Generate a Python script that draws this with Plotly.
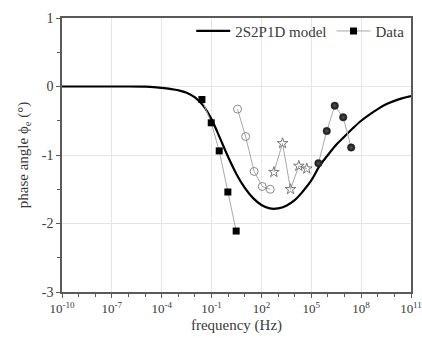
import plotly.graph_objects as go

# 2S2P1D model curve: log10(frequency) vs phase angle (deg)
model_logf = [-10, -8, -6, -5, -4.5, -4, -3.5, -3, -2.5, -2, -1.5, -1, -0.5, 0, 0.5, 1,
              1.5, 2, 2.5, 3, 3.5, 4, 4.5, 5, 5.5, 6, 6.5, 7, 7.5, 8, 8.5, 9, 9.5,
              10, 10.5, 11]
model_phase = [0, 0, 0, -0.003, -0.008, -0.02, -0.035, -0.055, -0.09, -0.16, -0.28, -0.48,
               -0.75, -1.03, -1.28, -1.48, -1.63, -1.73, -1.78, -1.78, -1.74, -1.66,
               -1.53, -1.37, -1.16, -1.0, -0.85, -0.73, -0.61, -0.5, -0.41, -0.33,
               -0.26, -0.21, -0.17, -0.14]

# Measured data, grouped by test series (log10 frequency, phase angle)
sq_logf = [-1.58, -1.02, -0.54, -0.02, 0.48]
sq_phase = [-0.19, -0.53, -0.94, -1.54, -2.11]

circ_logf = [0.56, 1.05, 1.56, 2.05, 2.53]
circ_phase = [-0.33, -0.73, -1.24, -1.46, -1.50]

star_logf = [2.75, 3.27, 3.75, 4.25, 4.73]
star_phase = [-1.25, -0.83, -1.50, -1.16, -1.20]

ball_logf = [5.43, 5.93, 6.41, 6.92, 7.40]
ball_phase = [-1.12, -0.65, -0.28, -0.45, -0.89]

tick_exp = [-10, -7, -4, -1, 2, 5, 8, 11]
y_ticks = [1, 0, -1, -2, -3]


def freq(logs):
    return [10 ** v for v in logs]


FONT = "'Liberation Serif', 'DejaVu Serif', serif"
LINE_GRAY = "#a8a8a8"
TEXT = "#3a3a3a"

fig = go.Figure()

fig.add_trace(go.Scatter(
    x=freq(model_logf), y=model_phase, mode="lines", line_shape="spline",
    line=dict(color="black", width=2.2), name="2S2P1D model"))

fig.add_trace(go.Scatter(
    x=freq(sq_logf), y=sq_phase, mode="lines+markers", name="Data",
    line=dict(color=LINE_GRAY, width=1),
    marker=dict(symbol="square", size=7, color="black")))

fig.add_trace(go.Scatter(
    x=freq(circ_logf), y=circ_phase, mode="lines+markers", showlegend=False,
    line=dict(color=LINE_GRAY, width=1),
    marker=dict(symbol="circle-open", size=8, color="#8a8a8a", line=dict(width=1))))

fig.add_trace(go.Scatter(
    x=freq(star_logf), y=star_phase, mode="lines+markers", showlegend=False,
    line=dict(color=LINE_GRAY, width=1),
    marker=dict(symbol="star-open", size=8, color="#7a7a7a", line=dict(width=1))))

fig.add_trace(go.Scatter(
    x=freq(ball_logf), y=ball_phase, mode="lines+markers", showlegend=False,
    line=dict(color=LINE_GRAY, width=1),
    marker=dict(symbol="circle", size=7.5, color="#111111",
                gradient=dict(type="radial", color="#555555"),
                line=dict(width=0.5, color="#333333"))))

fig.update_layout(
    width=422, height=338,
    margin=dict(l=62, r=11, t=18, b=46),
    paper_bgcolor="white", plot_bgcolor="white",
    font=dict(family=FONT, size=14, color=TEXT),
    showlegend=True,
    legend=dict(orientation="h", x=0.995, y=1.012, xanchor="right", yanchor="top",
                bgcolor="rgba(0,0,0,0)", font=dict(family=FONT, size=15, color=TEXT),
                itemwidth=34, tracegroupgap=0),
)

fig.update_xaxes(
    type="log", range=[-10, 11], automargin=False, ticklabeloverflow="allow",
    tickvals=[10 ** e for e in tick_exp],
    ticktext=["10<sup>%d</sup>" % e for e in tick_exp],
    tickfont=dict(family=FONT, size=13, color=TEXT),
    showgrid=True, gridcolor="#e6e6e6", gridwidth=1,
    showline=True, linecolor="#5a5a5a", linewidth=1.5, mirror=True,
    ticks="outside", ticklen=4, tickcolor="#5a5a5a",
    minor=dict(tickvals=[10 ** e for e in range(-10, 12)], ticks="outside",
               ticklen=3, tickcolor="#5a5a5a", showgrid=False),
    title=dict(text="frequency (Hz)", font=dict(family=FONT, size=15, color=TEXT),
               standoff=4),
    zeroline=False,
)

fig.update_yaxes(
    range=[-3, 1], automargin=False, tickvals=y_ticks, ticktext=[str(v) for v in y_ticks],
    tickfont=dict(family=FONT, size=14, color=TEXT),
    showgrid=True, gridcolor="#e6e6e6", gridwidth=1,
    showline=True, linecolor="#5a5a5a", linewidth=1.5, mirror=True,
    ticks="outside", ticklen=4, tickcolor="#5a5a5a",
    minor=dict(dtick=0.5, ticks="outside", ticklen=3, tickcolor="#5a5a5a",
               showgrid=False),
    title=dict(text="phase angle ϕ<sub>e</sub> (°)",
               font=dict(family=FONT, size=15, color=TEXT), standoff=10),
    zeroline=False,
)

fig.write_html("out.html")
